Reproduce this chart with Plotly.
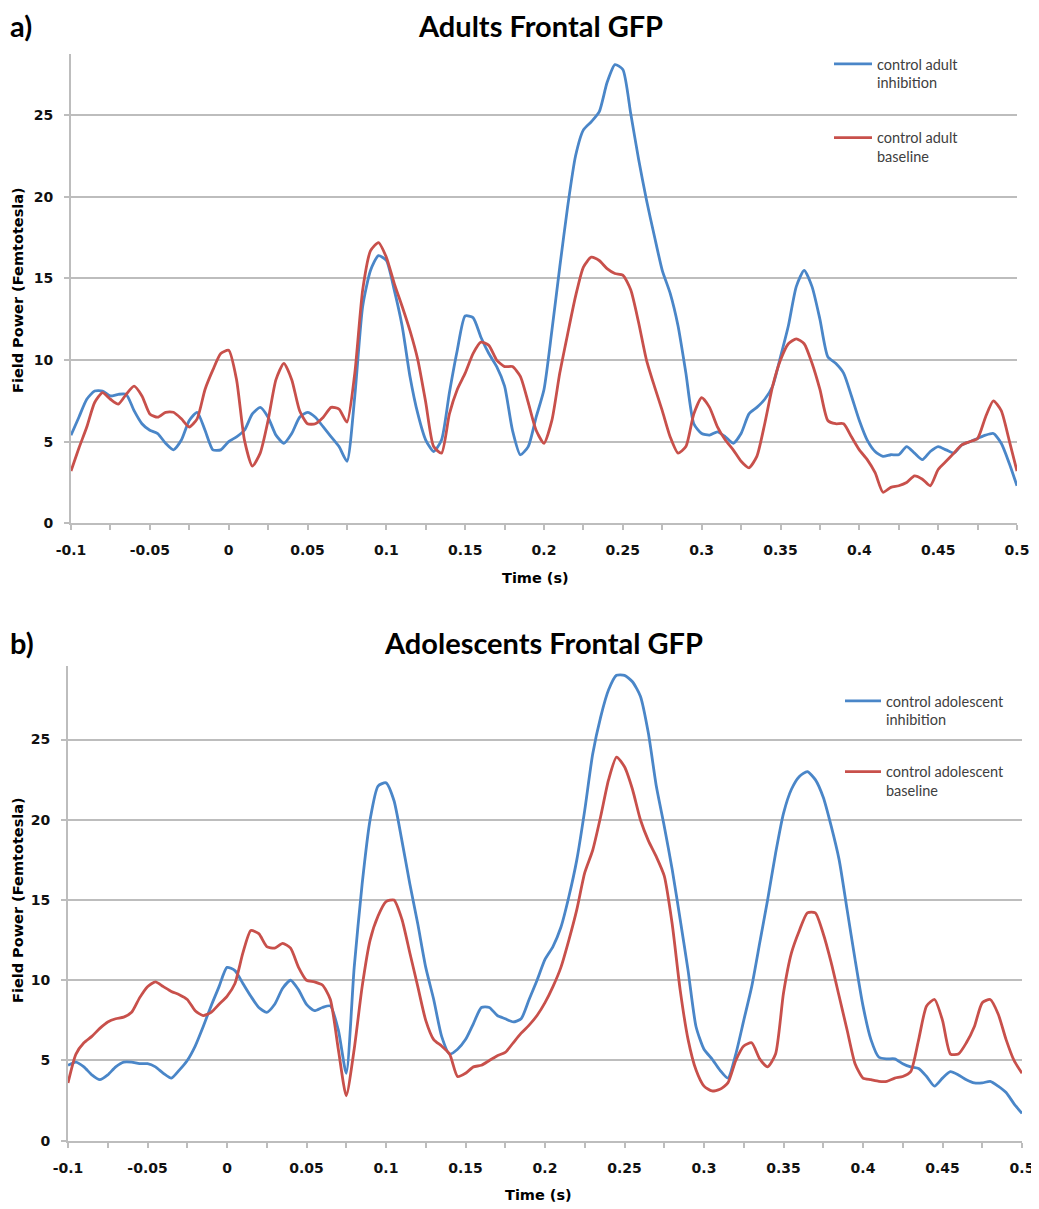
import numpy as np
import plotly.graph_objects as go

# ---------------- data ----------------
time_s = [round(v, 3) for v in np.arange(-0.1, 0.5001, 0.005)]

adult_inhibition = [
    5.4, 6.5, 7.6, 8.1, 8.1, 7.8, 7.9, 7.9, 6.9, 6.1,
    5.7, 5.5, 4.9, 4.5, 5.1, 6.3, 6.8, 5.7, 4.5, 4.5,
    5.0, 5.3, 5.7, 6.7, 7.1, 6.5, 5.4, 4.9, 5.5, 6.5,
    6.8, 6.5, 5.9, 5.3, 4.7, 3.8, 7.8, 13.3, 15.5, 16.4,
    16.1, 14.3, 12.1, 9.0, 6.7, 5.1, 4.4, 5.1, 8.0, 10.6,
    12.7, 12.6, 11.4, 10.4, 9.6, 8.4, 5.7, 4.2, 4.7, 6.5,
    8.2, 11.8, 15.7, 19.4, 22.5, 24.1, 24.6, 25.2, 27.0, 28.1,
    27.8, 25.1, 22.3, 19.8, 17.6, 15.5, 14.1, 12.1, 9.2, 6.1,
    5.5, 5.4, 5.6, 5.3, 4.9, 5.5, 6.7, 7.1, 7.6, 8.4,
    10.2, 12.1, 14.5, 15.5, 14.5, 12.5, 10.2, 9.8, 9.2, 7.8,
    6.3, 5.1, 4.4, 4.1, 4.2, 4.2, 4.7, 4.3, 3.9, 4.4,
    4.7, 4.5, 4.3, 4.8, 5.0, 5.2, 5.4, 5.5, 4.9, 3.7,
    2.3,
]

adult_baseline = [
    3.2, 4.6, 5.9, 7.4, 8.0, 7.6, 7.3, 7.9, 8.4, 7.8,
    6.7, 6.5, 6.8, 6.8, 6.4, 5.9, 6.4, 8.2, 9.4, 10.4,
    10.6, 8.8, 5.1, 3.5, 4.3, 6.3, 8.8, 9.8, 8.8, 6.9,
    6.1, 6.1, 6.5, 7.1, 7.0, 6.2, 9.2, 14.3, 16.7, 17.2,
    16.3, 14.7, 13.3, 11.8, 10.0, 7.4, 4.7, 4.3, 6.7, 8.2,
    9.2, 10.4, 11.1, 10.9, 10.0, 9.6, 9.6, 9.0, 7.4, 5.7,
    4.9, 6.3, 9.2, 11.6, 13.9, 15.7, 16.3, 16.1, 15.6, 15.3,
    15.2, 14.3, 12.3, 10.0, 8.4, 6.9, 5.3, 4.3, 4.7, 6.7,
    7.7, 7.1, 5.9, 5.1, 4.5, 3.8, 3.4, 4.1, 6.1, 8.4,
    10.0, 11.0, 11.3, 11.0, 9.8, 8.2, 6.3, 6.1, 6.1, 5.3,
    4.5, 3.9, 3.1, 1.9, 2.2, 2.3, 2.5, 2.9, 2.7, 2.3,
    3.3, 3.8, 4.3, 4.8, 5.0, 5.2, 6.5, 7.5, 6.9, 5.1,
    3.2,
]

adolescent_inhibition = [
    4.7, 4.9, 4.6, 4.1, 3.8, 4.1, 4.6, 4.9, 4.9, 4.8,
    4.8, 4.6, 4.2, 3.9, 4.4, 5.0, 5.9, 7.1, 8.4, 9.6,
    10.8, 10.6, 9.8, 9.0, 8.3, 8.0, 8.5, 9.5, 10.0, 9.4,
    8.5, 8.1, 8.3, 8.4, 6.9, 4.2, 10.8, 16.0, 20.0, 22.1,
    22.3, 21.2, 18.7, 16.0, 13.5, 10.8, 8.8, 6.5, 5.4, 5.7,
    6.3, 7.3, 8.3, 8.3, 7.8, 7.6, 7.4, 7.6, 8.8, 10.0,
    11.3, 12.1, 13.3, 15.2, 17.5, 20.6, 24.1, 26.4, 28.1, 29.0,
    29.0, 28.6, 27.7, 25.4, 22.1, 19.6, 16.9, 13.8, 10.6, 7.1,
    5.7, 5.1, 4.4, 3.9, 5.4, 7.5, 9.6, 12.3, 15.0, 17.9,
    20.4, 21.9, 22.7, 23.0, 22.5, 21.4, 19.6, 17.5, 14.4, 11.3,
    8.4, 6.3, 5.2, 5.1, 5.1, 4.8, 4.6, 4.5, 4.0, 3.4,
    3.9, 4.3, 4.1, 3.8, 3.6, 3.6, 3.7, 3.4, 3.0, 2.3,
    1.7,
]

adolescent_baseline = [
    3.6, 5.4, 6.1, 6.5, 7.0, 7.4, 7.6, 7.7, 8.0, 8.9,
    9.6, 9.9, 9.6, 9.3, 9.1, 8.8, 8.1, 7.8, 8.0, 8.5,
    9.0, 9.8, 11.7, 13.1, 12.9, 12.1, 12.0, 12.3, 12.0, 10.8,
    10.0, 9.9, 9.7, 8.8, 5.7, 2.8, 5.7, 9.6, 12.5, 14.0,
    14.9, 15.0, 13.8, 11.7, 9.6, 7.5, 6.3, 5.9, 5.4, 4.0,
    4.2, 4.6, 4.7, 5.0, 5.3, 5.5, 6.1, 6.7, 7.2, 7.8,
    8.6, 9.6, 10.8, 12.5, 14.4, 16.7, 18.1, 20.2, 22.5, 23.9,
    23.3, 21.9, 20.0, 18.7, 17.7, 16.5, 13.5, 9.4, 6.3, 4.4,
    3.4, 3.1, 3.2, 3.6, 5.0, 5.9, 6.1, 5.1, 4.6, 5.4,
    9.2, 11.7, 13.1, 14.2, 14.2, 12.9, 11.1, 9.0, 6.9, 4.8,
    3.9, 3.8, 3.7, 3.7, 3.9, 4.0, 4.3, 6.3, 8.4, 8.8,
    7.5, 5.4, 5.4, 6.1, 7.1, 8.6, 8.8, 7.9, 6.3, 5.0,
    4.2,
]

x_tick_vals = [-0.1, -0.05, 0, 0.05, 0.1, 0.15, 0.2, 0.25, 0.3, 0.35, 0.4, 0.45, 0.5]
x_tick_text = ["-0.1", "-0.05", "0", "0.05", "0.1", "0.15", "0.2", "0.25", "0.3", "0.35", "0.4", "0.45", "0.5"]
y_tick_vals = [0, 5, 10, 15, 20, 25]
y_tick_text = ["0", "5", "10", "15", "20", "25"]

# ---------------- styling ----------------
# the page body has an 8px margin, so the figure is drawn 8px in from the window edge
OFF = 8
W, H = 1039 - OFF, 1209 - OFF
BLUE = "#4A86C8"
RED = "#C8504B"
GRID = "#BDBDBD"
TICKFONT = dict(family="DejaVu Sans", size=14, color="#111111", weight="bold")
LEGFONT = dict(family="Lato", size=14.5, color="#404040")


def px_x(p):
    return (p - OFF) / W


def px_y(p):
    return 1 - (p - OFF) / H


fig = go.Figure()

line_kw = dict(width=2.8)
fig.add_trace(go.Scatter(x=time_s, y=adult_inhibition, mode="lines",
                         name="control adult<br>inhibition",
                         line=dict(color=BLUE, shape="spline", smoothing=0.6, **line_kw),
                         xaxis="x", yaxis="y", legend="legend", legendgroup="a1"))
fig.add_trace(go.Scatter(x=time_s, y=adult_baseline, mode="lines",
                         name="control adult<br>baseline",
                         line=dict(color=RED, shape="spline", smoothing=0.6, **line_kw),
                         xaxis="x", yaxis="y", legend="legend", legendgroup="a2"))
fig.add_trace(go.Scatter(x=time_s, y=adolescent_inhibition, mode="lines",
                         name="control adolescent<br>inhibition",
                         line=dict(color=BLUE, shape="spline", smoothing=0.6, **line_kw),
                         xaxis="x2", yaxis="y2", legend="legend2", legendgroup="b1"))
fig.add_trace(go.Scatter(x=time_s, y=adolescent_baseline, mode="lines",
                         name="control adolescent<br>baseline",
                         line=dict(color=RED, shape="spline", smoothing=0.6, **line_kw),
                         xaxis="x2", yaxis="y2", legend="legend2", legendgroup="b2"))


def xaxis_style(domain, anchor):
    return dict(
        domain=domain, anchor=anchor, range=[-0.1, 0.5], automargin=False,
        tickmode="array", tickvals=x_tick_vals, ticktext=x_tick_text,
        ticks="outside", ticklen=5, tickwidth=1.5, tickcolor=GRID,
        minor=dict(dtick=0.025, tick0=-0.1, ticks="outside", ticklen=5, tickwidth=1.5,
                   tickcolor=GRID, showgrid=False),
        showline=True, linecolor=GRID, linewidth=2, showgrid=False, zeroline=False,
        tickfont=TICKFONT, ticklabelstandoff=8,
    )


def yaxis_style(domain, anchor, top):
    return dict(
        domain=domain, anchor=anchor, range=[0, top], automargin=False,
        tickmode="array", tickvals=y_tick_vals, ticktext=y_tick_text,
        ticks="outside", ticklen=5, tickwidth=1.5, tickcolor=GRID,
        showline=True, linecolor=GRID, linewidth=2,
        showgrid=True, gridcolor=GRID, gridwidth=1.6, zeroline=False,
        tickfont=TICKFONT, ticklabelstandoff=8,
    )


fig.update_layout(
    width=W, height=H,
    margin=dict(l=0, r=0, t=0, b=0),
    paper_bgcolor="white", plot_bgcolor="white",
    xaxis=xaxis_style([px_x(71), px_x(1017)], "y"),
    yaxis=yaxis_style([px_y(523.3), px_y(54)], "x", 28.75),
    xaxis2=xaxis_style([px_x(68), px_x(1022)], "y2"),
    yaxis2=yaxis_style([px_y(1140.7), px_y(665.7)], "x2", 29.6),
    legend=dict(x=px_x(829), y=px_y(48), xanchor="left", yanchor="top",
                font=LEGFONT, valign="top", itemwidth=38, tracegroupgap=33,
                bgcolor="rgba(0,0,0,0)", borderwidth=0),
    legend2=dict(x=px_x(840), y=px_y(685), xanchor="left", yanchor="top",
                 font=LEGFONT, valign="top", itemwidth=36, tracegroupgap=30,
                 bgcolor="rgba(0,0,0,0)", borderwidth=0),
    showlegend=True,
)

TITLEFONT = dict(family="Lato", size=29, color="#000000", weight="bold")
AXTITLEFONT = dict(family="DejaVu Sans", size=14.5, color="#000000", weight="bold")

annotations = [
    dict(text="a)", x=px_x(8), y=px_y(26), xanchor="left", yanchor="middle", font=TITLEFONT),
    dict(text="Adults Frontal GFP", x=px_x(540), y=px_y(26), xanchor="center", yanchor="middle", font=TITLEFONT),
    dict(text="b)", x=px_x(8), y=px_y(642), xanchor="left", yanchor="middle", font=TITLEFONT),
    dict(text="Adolescents Frontal GFP", x=px_x(543), y=px_y(642), xanchor="center", yanchor="middle", font=TITLEFONT),
    dict(text="Time (s)", x=px_x(535), y=px_y(578), xanchor="center", yanchor="middle", font=AXTITLEFONT),
    dict(text="Time (s)", x=px_x(538), y=px_y(1195), xanchor="center", yanchor="middle", font=AXTITLEFONT),
    dict(text="Field Power (Femtotesla)", x=px_x(18), y=px_y(290), xanchor="center", yanchor="middle",
         textangle=-90, font=AXTITLEFONT),
    dict(text="Field Power (Femtotesla)", x=px_x(18), y=px_y(900), xanchor="center", yanchor="middle",
         textangle=-90, font=AXTITLEFONT),
]
for a in annotations:
    a.update(xref="paper", yref="paper", showarrow=False)
fig.update_layout(annotations=annotations)

fig.write_html("out.html")
